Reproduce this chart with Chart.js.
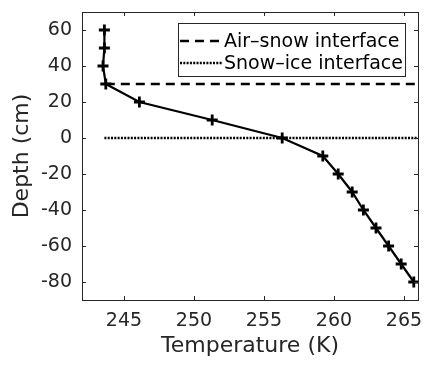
<!DOCTYPE html>
<html>
<head>
<meta charset="utf-8">
<script src="https://cdn.jsdelivr.net/npm/chart.js@4"></script>
<style>
  html, body { margin: 0; padding: 0; background: #fff; }
  #wrap { width: 435px; height: 373px; }
</style>
</head>
<body>
<div id="wrap"><canvas id="myChart" width="435" height="373"></canvas></div>
<script>
// temperature profile
const depths = [60, 50, 40, 30, 20, 10, 0, -10, -20, -30, -40, -50, -60, -70, -80];
const temps = [243.6, 243.6, 243.5, 243.7, 246.1, 251.3, 256.3, 259.2, 260.3, 261.3, 262.1, 263.0, 263.9, 264.8, 265.7];

const airSnowX = [243.7, 266];
const airSnowY = [30, 30];
const snowIceX = [243.6, 266];
const snowIceY = [0, 0];

const xTicks = [245, 250, 255, 260, 265];
const yTicks = [-80, -60, -40, -20, 0, 20, 40, 60];

const axisColor = "#262626";
const font = "'DejaVu Sans', sans-serif";

const toPoints = (xs, ys) => xs.map((x, i) => ({ x: x, y: ys[i] }));

// box + inward ticks on all four sides, legend inside the axes
const framePlugin = {
  id: "frame",
  afterDraw(chart) {
    const { ctx, chartArea: a, scales } = chart;
    ctx.save();
    ctx.strokeStyle = axisColor;
    ctx.lineWidth = 1;
    ctx.strokeRect(a.left + 0.5, a.top + 0.5, a.right - a.left, a.bottom - a.top);
    const len = 4;
    ctx.beginPath();
    xTicks.forEach((t) => {
      const px = Math.round(scales.x.getPixelForValue(t)) + 0.5;
      ctx.moveTo(px, a.bottom);
      ctx.lineTo(px, a.bottom - len);
      ctx.moveTo(px, a.top);
      ctx.lineTo(px, a.top + len);
    });
    yTicks.forEach((t) => {
      const py = Math.round(scales.y.getPixelForValue(t)) + 0.5;
      ctx.moveTo(a.left, py);
      ctx.lineTo(a.left + len, py);
      ctx.moveTo(a.right, py);
      ctx.lineTo(a.right - len, py);
    });
    ctx.stroke();

    // legend
    const bx = 178.5, by = 23.5, bw = 227, bh = 53;
    ctx.fillStyle = "#fff";
    ctx.fillRect(bx, by, bw, bh);
    ctx.strokeStyle = axisColor;
    ctx.strokeRect(bx, by, bw, bh);
    const items = [
      { label: "Air\u2013snow interface", dash: [9, 6], y: 41 },
      { label: "Snow\u2013ice interface", dash: [2, 1.3], y: 63 },
    ];
    ctx.font = "19px " + font;
    ctx.textBaseline = "middle";
    items.forEach((it) => {
      ctx.strokeStyle = "#000";
      ctx.lineWidth = 2.5;
      ctx.setLineDash(it.dash);
      ctx.beginPath();
      ctx.moveTo(180, it.y);
      ctx.lineTo(223, it.y);
      ctx.stroke();
      ctx.setLineDash([]);
      ctx.fillStyle = "#000";
      ctx.fillText(it.label, 224, it.y + 1);
    });
    ctx.restore();
  },
};

const ctx = document.getElementById("myChart").getContext("2d");
const myChart = new Chart(ctx, {
  type: "scatter",
  data: {
    datasets: [
      {
        label: "Air\u2013snow interface",
        data: toPoints(airSnowX, airSnowY),
        showLine: true,
        borderColor: "#000",
        borderWidth: 2.5,
        borderDash: [9, 6],
        pointRadius: 0,
      },
      {
        label: "Snow\u2013ice interface",
        data: toPoints(snowIceX, snowIceY),
        showLine: true,
        borderColor: "#000",
        borderWidth: 2.5,
        borderDash: [2, 1.3],
        pointRadius: 0,
      },
      {
        label: "Temperature",
        data: toPoints(temps, depths),
        showLine: true,
        borderColor: "#000",
        borderWidth: 2.2,
        pointStyle: "cross",
        pointRadius: 5.5,
        pointBorderWidth: 2.8,
        pointBorderColor: "#000",
      },
    ],
  },
  options: {
    responsive: false,
    animation: false,
    layout: { padding: { top: 12, right: 17, left: 0, bottom: 0 } },
    plugins: {
      legend: { display: false },
      tooltip: { enabled: false },
    },
    scales: {
      x: {
        type: "linear",
        min: 242,
        max: 266,
        grid: { display: false, drawTicks: false },
        border: { display: false },
        afterBuildTicks: (scale) => {
          scale.ticks = xTicks.map((v) => ({ value: v }));
        },
        afterFit: (scale) => {
          scale.height = 73;
          scale.paddingLeft = 0;
          scale.paddingRight = 0;
        },
        ticks: {
          color: axisColor,
          padding: 10,
          font: { family: font, size: 19 },
        },
        title: {
          display: true,
          text: "Temperature (K)",
          color: axisColor,
          font: { family: font, size: 22 },
          padding: { top: 0, bottom: 14 },
        },
      },
      y: {
        type: "linear",
        min: -90,
        max: 70,
        grid: { display: false, drawTicks: false },
        border: { display: false },
        afterBuildTicks: (scale) => {
          scale.ticks = yTicks.map((v) => ({ value: v }));
        },
        afterFit: (scale) => {
          scale.width = 82;
          scale.paddingTop = 0;
          scale.paddingBottom = 0;
        },
        ticks: {
          color: axisColor,
          padding: 10,
          font: { family: font, size: 19 },
        },
        title: {
          display: true,
          text: "Depth (cm)",
          color: axisColor,
          font: { family: font, size: 22 },
          padding: { top: 9, bottom: 0 },
        },
      },
    },
  },
  plugins: [framePlugin],
});
</script>
</body>
</html>
